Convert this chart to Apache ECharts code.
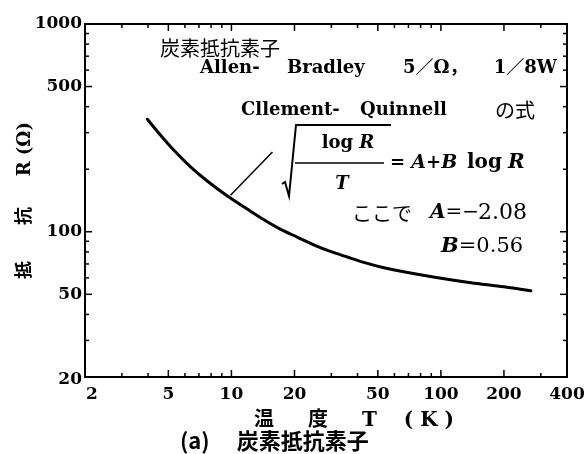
<!DOCTYPE html>
<html><head><meta charset="utf-8">
<script src="https://cdn.jsdelivr.net/npm/echarts@6/dist/echarts.min.js"></script>
<style>html,body{margin:0;padding:0;background:#fff}#c{width:587px;height:454px}</style>
</head><body><div id="c"></div>
<script>
// ---- data ----
const temperatureK  = [3.97, 4.57, 5.29, 6.36, 7.64, 9.53, 11.9, 14.3, 17.1, 20.6, 24.7, 29.7, 35.7, 42.9, 51.6, 66.4, 96.6, 139, 200, 269];
const resistanceOhm = [348, 293, 248, 206, 176, 149, 128.6, 114.2, 103, 94.3, 86.6, 80.4, 75.6, 71.2, 67.7, 64.2, 60.1, 56.9, 54.4, 52.0];
const pointerT = [9.9, 15.7];
const pointerR = [150, 242];
const xTickValues = [2,3,4,5,6,7,8,9,10,20,30,40,50,60,70,80,90,100,200,300,400];
const xTickLabels = [2,5,10,20,50,100,200,400];
const yTickValues = [20,30,40,50,60,70,80,90,100,200,300,400,500,600,700,800,900,1000];
const yTickLabels = [20,50,100,500,1000];
const xRange = [2, 400];
const yRange = [20, 1000];

const SERIF = '"DejaVu Serif", "Noto Sans CJK JP", serif';
const CJK = '"Noto Sans CJK JP", sans-serif';

const chart = echarts.init(document.getElementById('c'), null, {renderer: 'canvas'});

function xTickItem(params, api) {
  const v = api.value(0);
  const major = xTickLabels.indexOf(v) >= 0;
  const len = major ? 7 : 4;
  const b = api.coord([v, yRange[0]]);
  const t = api.coord([v, yRange[1]]);
  const ch = [];
  if (v !== xRange[0] && v !== xRange[1]) {
    ch.push({type: 'line', shape: {x1: b[0], y1: b[1], x2: b[0], y2: b[1] - len}, style: {stroke: '#000', lineWidth: 1.5}});
    ch.push({type: 'line', shape: {x1: t[0], y1: t[1], x2: t[0], y2: t[1] + len}, style: {stroke: '#000', lineWidth: 1.5}});
  }
  if (major) {
    const first = v === xRange[0];
    ch.push({type: 'text', x: b[0] + (first ? 1 : 0), y: b[1] + 18,
      style: {text: String(v), fill: '#000', fontSize: 17, fontWeight: 'bold', fontFamily: SERIF,
        align: first ? 'left' : 'center', verticalAlign: 'middle'}});
  }
  return {type: 'group', children: ch};
}

function yTickItem(params, api) {
  const v = api.value(1);
  const major = yTickLabels.indexOf(v) >= 0;
  const len = major ? 7 : 4;
  const l = api.coord([xRange[0], v]);
  const r = api.coord([xRange[1], v]);
  const ch = [];
  if (v !== yRange[0] && v !== yRange[1]) {
    ch.push({type: 'line', shape: {x1: l[0], y1: l[1], x2: l[0] + len, y2: l[1]}, style: {stroke: '#000', lineWidth: 1.5}});
    ch.push({type: 'line', shape: {x1: r[0], y1: r[1], x2: r[0] - len, y2: r[1]}, style: {stroke: '#000', lineWidth: 1.5}});
  }
  if (major) {
    ch.push({type: 'text', x: l[0] - 3, y: l[1] + (v === yRange[0] ? 3 : 0),
      style: {text: String(v), fill: '#000', fontSize: 17, fontWeight: 'bold', fontFamily: SERIF,
        align: 'right', verticalAlign: 'middle'}});
  }
  return {type: 'group', children: ch};
}

function txt(x, y, text, size, family, extra) {
  return {type: 'text', x: x, y: y, silent: true,
    style: Object.assign({text: text, fill: '#000', fontSize: size, fontFamily: family,
      align: 'left', verticalAlign: 'middle'}, extra || {})};
}
function ital(size) {
  return {i: {fontStyle: 'italic', fontWeight: 'bold', fontFamily: SERIF, fontSize: size, fill: '#000'}};
}

const option = {
  animation: false,
  backgroundColor: '#fff',
  title: {
    text: '(a)\u3000 炭素抵抗素子', left: 180, top: 430, padding: 0,
    textStyle: {fontSize: 22, fontWeight: 'bold', fontFamily: CJK, color: '#000'}
  },
  grid: {left: 85, top: 24, right: 20, bottom: 77, show: true, borderColor: '#000', borderWidth: 2, backgroundColor: 'transparent'},
  xAxis: {
    type: 'log', logBase: 10, min: xRange[0], max: xRange[1],
    axisLine: {show: true, lineStyle: {color: '#000', width: 2}},
    axisTick: {show: false}, axisLabel: {show: false}, splitLine: {show: false}, minorTick: {show: false},
    name: '温\u3000  度\u3000  T\u3000 ( K )', nameLocation: 'middle', nameGap: 34,
    nameTextStyle: {fontSize: 20, fontFamily: SERIF, fontWeight: 'bold', color: '#000', padding: [0, 0, 0, 56]}
  },
  yAxis: {
    type: 'log', logBase: 10, min: yRange[0], max: yRange[1],
    axisLine: {show: true, lineStyle: {color: '#000', width: 2}},
    axisTick: {show: false}, axisLabel: {show: false}, splitLine: {show: false}, minorTick: {show: false},
    name: '抵\u3000\u3000抗\u3000  R (Ω)', nameLocation: 'middle', nameGap: 51, nameRotate: 90,
    nameTextStyle: {fontSize: 18, fontFamily: SERIF, fontWeight: 'bold', color: '#000'}
  },
  series: [
    {
      type: 'line', name: 'R(T)', smooth: 0.3, showSymbol: false, symbol: 'none',
      data: temperatureK.map((t, i) => [t, resistanceOhm[i]]),
      lineStyle: {color: '#000', width: 3, cap: 'round', join: 'round'}, silent: true, z: 5
    },
    {
      type: 'line', name: 'pointer', showSymbol: false, symbol: 'none',
      data: pointerT.map((t, i) => [t, pointerR[i]]),
      lineStyle: {color: '#000', width: 1.5}, silent: true, z: 5
    },
    {
      type: 'custom', name: 'xticks', renderItem: xTickItem, clip: false, silent: true, z: 6,
      encode: {x: 0, y: 1}, data: xTickValues.map(v => [v, yRange[0]])
    },
    {
      type: 'custom', name: 'yticks', renderItem: yTickItem, clip: false, silent: true, z: 6,
      encode: {x: 0, y: 1}, data: yTickValues.map(v => [xRange[0], v])
    }
  ],
  graphic: [
    txt(160, 48, '炭素抵抗素子', 20, CJK),
    txt(200, 68, 'Allen-', 18, SERIF, {fontWeight: 'bold'}),
    txt(287, 68, 'Bradley', 18, SERIF, {fontWeight: 'bold'}),
    txt(403, 68, '5／Ω，', 18, SERIF, {fontWeight: 'bold'}),
    txt(557, 68, '1／8W', 18, SERIF, {fontWeight: 'bold', align: 'right'}),
    txt(241, 110, 'Cllement-', 18, SERIF, {fontWeight: 'bold'}),
    txt(360, 110, 'Quinnell', 18, SERIF, {fontWeight: 'bold'}),
    txt(495, 110, 'の式', 20, CJK),
    {type: 'polyline', silent: true, shape: {points: [[282, 184], [285, 182], [289, 196], [296, 125], [391, 125]]},
      style: {stroke: '#000', lineWidth: 2, fill: null}},
    txt(348, 143, 'log {i|R}', 18, SERIF, {fontWeight: 'bold', align: 'center', rich: ital(18)}),
    {type: 'line', silent: true, shape: {x1: 295, y1: 163, x2: 384, y2: 163}, style: {stroke: '#000', lineWidth: 1.5}},
    txt(342, 184, '{i|T}', 18, SERIF, {fontWeight: 'bold', align: 'center', rich: ital(18)}),
    txt(390, 163, '= {i|A}+{i|B}', 18, SERIF, {fontWeight: 'bold', rich: ital(19)}),
    txt(467, 163, 'log', 20, SERIF, {fontWeight: 'bold'}),
    txt(508, 163, '{i|R}', 20, SERIF, {fontWeight: 'bold', rich: ital(20)}),
    txt(352, 213, 'ここで', 20, CJK),
    txt(430, 213, '{i|A}=−', 20, SERIF, {rich: ital(20)}),
    txt(478, 213, '2.08', 22, SERIF),
    txt(441, 247, '{i|B}=0.56', 21, SERIF, {rich: ital(21)})
  ]
};
chart.setOption(option);
</script>
</body></html>
